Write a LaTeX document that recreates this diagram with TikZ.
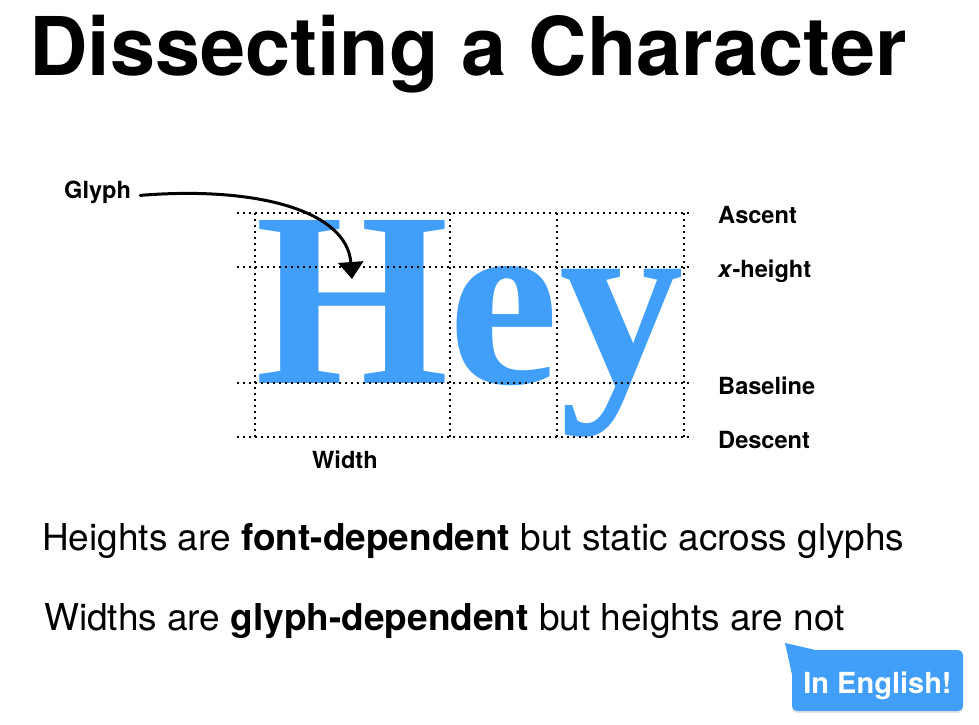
\documentclass[tikz,border=0pt]{standalone}
\usepackage{fontspec}
\setmainfont{TeX Gyre Heros}
\newfontfamily\glyphfont{Liberation Serif}
\usetikzlibrary{arrows.meta,shadows,calc}
\definecolor{keyblue}{RGB}{65,159,250}
\tikzset{
  txt/.style={inner sep=0pt, anchor=base west},
  label/.style={txt, font=\fontsize{23.6}{28}\selectfont\bfseries},
  body/.style={txt, font=\fontsize{37}{44}\selectfont},
  guide/.style={line width=1.8pt, dash pattern=on 1.8pt off 4.2pt},
  bubble/.style={fill=keyblue, rounded corners=5pt, minimum width=171pt,
    minimum height=61pt, inner sep=0pt,
    drop shadow={shadow xshift=0pt, shadow yshift=-2pt, opacity=0.22}},
}
\begin{document}
\begin{tikzpicture}[x=1pt,y=-1pt]
\useasboundingbox (0,0) rectangle (979,724);

% title
\node[txt, font=\fontsize{81}{96}\selectfont\bfseries] (title) at (29,75) {Dissecting a Character};

% the word, set in a bold serif
\node[txt, text=keyblue, font=\fontsize{249}{249}\glyphfont\bfseries] (hey) at (255,383) {Hey};

% metric guides
\foreach \yy in {213,267,383,437}
  \draw[guide] (237,\yy) -- (693,\yy);
\foreach \xx in {255,450,557,684}
  \draw[guide] (\xx,213) -- (\xx,437);

% metric names
\node[label] (ascent)   at (718,223) {Ascent};
\node[label] (xheight)  at (718,277) {\textit{x}-height};
\node[label] (baseline) at (718,394) {Baseline};
\node[label] (descent)  at (718,448) {Descent};
\node[label] (width)    at (312,468) {Width};
\node[label] (glyph)    at (64,198)  {Glyph};

% arrow from the label into the H
\coordinate (glyphtip) at (352,279);
\draw[line width=3pt, line cap=round, -{Triangle[length=17pt,width=25pt]}]
  ([xshift=9pt]glyph.mid east) .. controls (255,186) and (347,210) .. (glyphtip);

% statements
\node[body] (heights) at (42,550) {Heights are \textbf{font-dependent} but static across glyphs};
\node[body] (widths)  at (44,630) {Widths are \textbf{glyph-dependent} but heights are not};

% speech bubble
\node[bubble] (bubble) at (877.5,680.5) {};
\coordinate (bubbletip) at (785,643);
\fill[keyblue] (bubbletip) -- ($(bubble.north west)+(23,0)$) -- ($(bubble.north west)+(0,24)$) -- cycle;
\node[txt, anchor=base, text=white, font=\fontsize{29}{34}\selectfont\bfseries] (english) at (877.5,693) {In English!};
\end{tikzpicture}
\end{document}
